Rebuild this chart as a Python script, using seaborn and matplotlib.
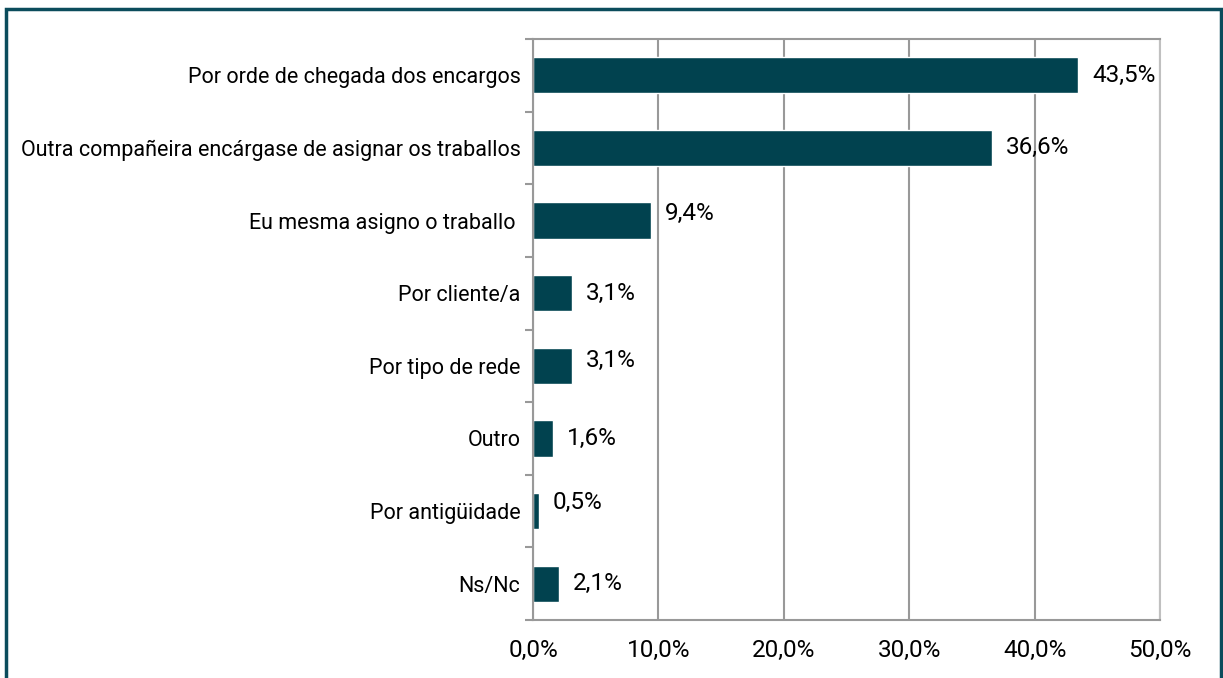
import matplotlib
matplotlib.use('Agg')
import matplotlib.pyplot as plt
import seaborn as sns
import pandas as pd
from matplotlib.patches import Rectangle
from matplotlib.ticker import FixedLocator, FuncFormatter

categories = [
    'Por orde de chegada dos encargos',
    'Outra compañeira encárgase de asignar os traballos',
    'Eu mesma asigno o traballo ',
    'Por cliente/a',
    'Por tipo de rede',
    'Outro',
    'Por antigüidade',
    'Ns/Nc',
]
values = [43.5, 36.6, 9.4, 3.1, 3.1, 1.6, 0.5, 2.1]
x_ticks = [0, 10, 20, 30, 40, 50]
# small vertical nudges of the value labels (category units), as in the original
label_dy = [0, 0, -0.1, 0, -0.08, 0, -0.12, 0]

bar_color = '#01424f'
frame_color = '#0b4c5c'

sns.set_theme(style='white')
plt.rcParams['font.family'] = ['Roboto', 'DejaVu Sans']

df = pd.DataFrame({'cat': categories, 'val': values})

fig = plt.figure(figsize=(12.23, 6.78), dpi=100)
ax = fig.add_axes([533 / 1223, 1 - 620 / 678, (1160 - 533) / 1223, (620 - 39) / 678])

sns.barplot(data=df, x='val', y='cat', orient='h', color=bar_color,
            width=0.5, saturation=1, ax=ax)

ax.set_xlim(0, 50)
ax.set_ylim(len(categories) - 0.5, -0.5)
ax.set_xlabel('')
ax.set_ylabel('')

# gridlines
ax.xaxis.set_major_locator(FixedLocator(x_ticks))
ax.xaxis.set_major_formatter(FuncFormatter(lambda v, p: f'{v:.1f}%'.replace('.', ',')))
ax.grid(axis='x', color='#999999', linewidth=1.5)
ax.set_axisbelow(True)
ax.tick_params(axis='x', length=0, pad=14, labelsize=17.5, colors='black')

# y ticks between categories
ax.yaxis.set_minor_locator(FixedLocator([i - 0.5 for i in range(len(categories) + 1)]))
ax.tick_params(axis='y', which='major', length=0, pad=9, labelsize=15.5, colors='black')
ax.tick_params(axis='y', which='minor', left=True, length=6, width=1.5, color='#999999')

for side in ['left', 'top', 'bottom']:
    ax.spines[side].set_color('#999999')
    ax.spines[side].set_linewidth(1.5)
ax.spines['right'].set_color('#c0c0c0')
ax.spines['right'].set_linewidth(1.5)

# value labels
for i, (v, dy) in enumerate(zip(values, label_dy)):
    ax.text(v + 1.1, i + dy, f'{v:.1f}%'.replace('.', ','), va='center', ha='left',
            fontsize=17.5, color='black')

# outer frame
fig.patches.append(Rectangle((6 / 1223, -0.05), (1221 - 6) / 1223, 1.05 - 9 / 678,
                             transform=fig.transFigure, fill=False,
                             edgecolor=frame_color, linewidth=2.5))

fig.savefig('out.png', dpi=100)
